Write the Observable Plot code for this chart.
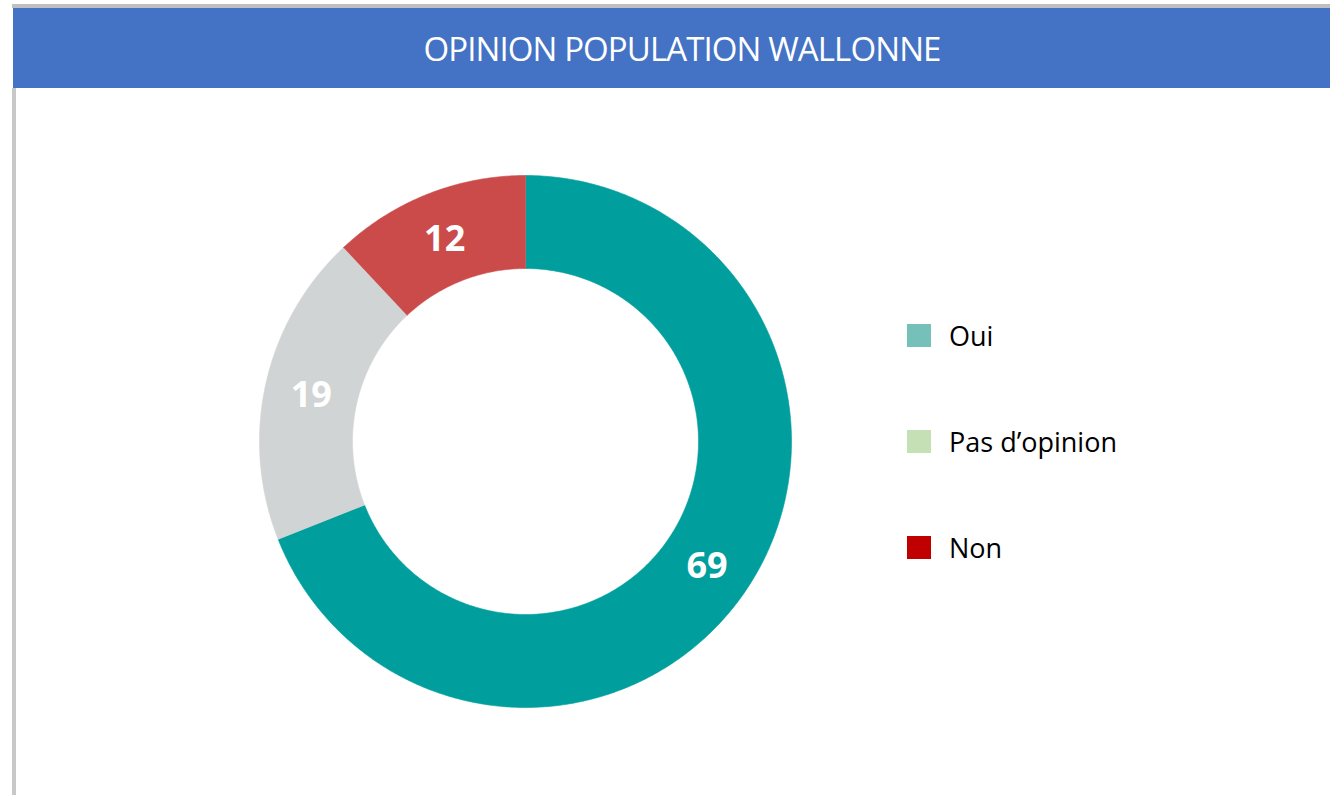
<!DOCTYPE html>
<html><head><meta charset="utf-8">
<script src="https://cdn.jsdelivr.net/npm/d3@7"></script>
<script src="https://cdn.jsdelivr.net/npm/@observablehq/plot@0.6"></script>
<style>
html,body{margin:0;padding:0;background:#fff;width:1330px;height:795px;overflow:hidden;position:relative;}
#topline{position:absolute;left:12px;top:4px;width:1318px;height:4px;background:#bfbfbf}
#titlebar{position:absolute;left:13px;top:8px;width:1317px;height:80px;background:#4472c4;}
#title{position:absolute;left:0;top:8px;width:1364px;height:80px;line-height:82px;text-align:center;color:#fff;font-family:"Open Sans";font-weight:400;font-size:33px;letter-spacing:-0.9px;white-space:nowrap;}
#leftline{position:absolute;left:12px;top:88px;width:4px;height:707px;background:#c8c8c8}
#chart{position:absolute;left:16px;top:88px;}
.leg{position:absolute;left:907px;height:24px;}
.leg .sw{position:absolute;left:0;top:0;width:24px;height:23px;}
.leg .lb{position:absolute;left:42px;top:-3px;font-family:"Open Sans";font-size:27px;color:#000;white-space:nowrap;line-height:30px;}
</style>
</head><body>
<div id="topline"></div>
<div id="titlebar"></div>
<div id="title">OPINION POPULATION WALLONNE</div>
<div id="leftline"></div>
<div id="chart"></div>
<div id="legend"></div>
<script>
const titleText = "OPINION POPULATION WALLONNE";
const categories = ["Oui", "Pas d’opinion", "Non"];
const values = [69, 19, 12];
const sliceColors = ["#009e9c", "#d1d4d4", "#cb4b4b"];
const legendColors = ["#76c0ba", "#c5e0b4", "#c00000"];
const legendTops = [324, 430, 536];

const W = 1314, H = 707;
const cx = 509, cy = 353, R = 266, r0 = 173;
const inner = r0 / R;

const pie = d3.pie().sort(null).value(d => d.value);
const arcs = pie(categories.map((c, i) => ({cat: c, value: values[i]})));

// build ring polygons (in data units, radius 1 = outer edge)
const poly = [];
for (const a of arcs) {
  const n = Math.max(8, Math.ceil((a.endAngle - a.startAngle) / (Math.PI / 360)));
  for (let k = 0; k <= n; k++) {
    const t = a.startAngle + (a.endAngle - a.startAngle) * k / n;
    poly.push({cat: a.data.cat, x: Math.sin(t), y: Math.cos(t)});
  }
  for (let k = n; k >= 0; k--) {
    const t = a.startAngle + (a.endAngle - a.startAngle) * k / n;
    poly.push({cat: a.data.cat, x: inner * Math.sin(t), y: inner * Math.cos(t)});
  }
}
const mid = (1 + inner) / 2;
const labels = arcs.map(a => {
  const t = (a.startAngle + a.endAngle) / 2;
  return {cat: a.data.cat, value: a.data.value, x: mid * Math.sin(t), y: mid * Math.cos(t)};
});

const chart = Plot.plot({
  width: W, height: H,
  margin: 0,
  x: {domain: [-cx / R, (W - cx) / R], axis: null},
  y: {domain: [-(H - cy) / R, cy / R], axis: null},
  color: {domain: categories, range: sliceColors},
  marks: [
    Plot.line(poly, {x: "x", y: "y", z: "cat", fill: "cat", stroke: "cat", strokeWidth: 0.6, curve: "linear"}),
    Plot.text(labels, {x: "x", y: "y", text: d => String(d.value), fill: "white",
      fontSize: 36, fontWeight: "bold", fontFamily: "Open Sans", dy: 2})
  ]
});
document.getElementById("chart").appendChild(chart);

const leg = document.getElementById("legend");
categories.forEach((c, i) => {
  const d = document.createElement("div");
  d.className = "leg";
  d.style.top = legendTops[i] + "px";
  d.innerHTML = `<div class="sw" style="background:${legendColors[i]}"></div><div class="lb">${c}</div>`;
  leg.appendChild(d);
});
</script>
</body></html>
